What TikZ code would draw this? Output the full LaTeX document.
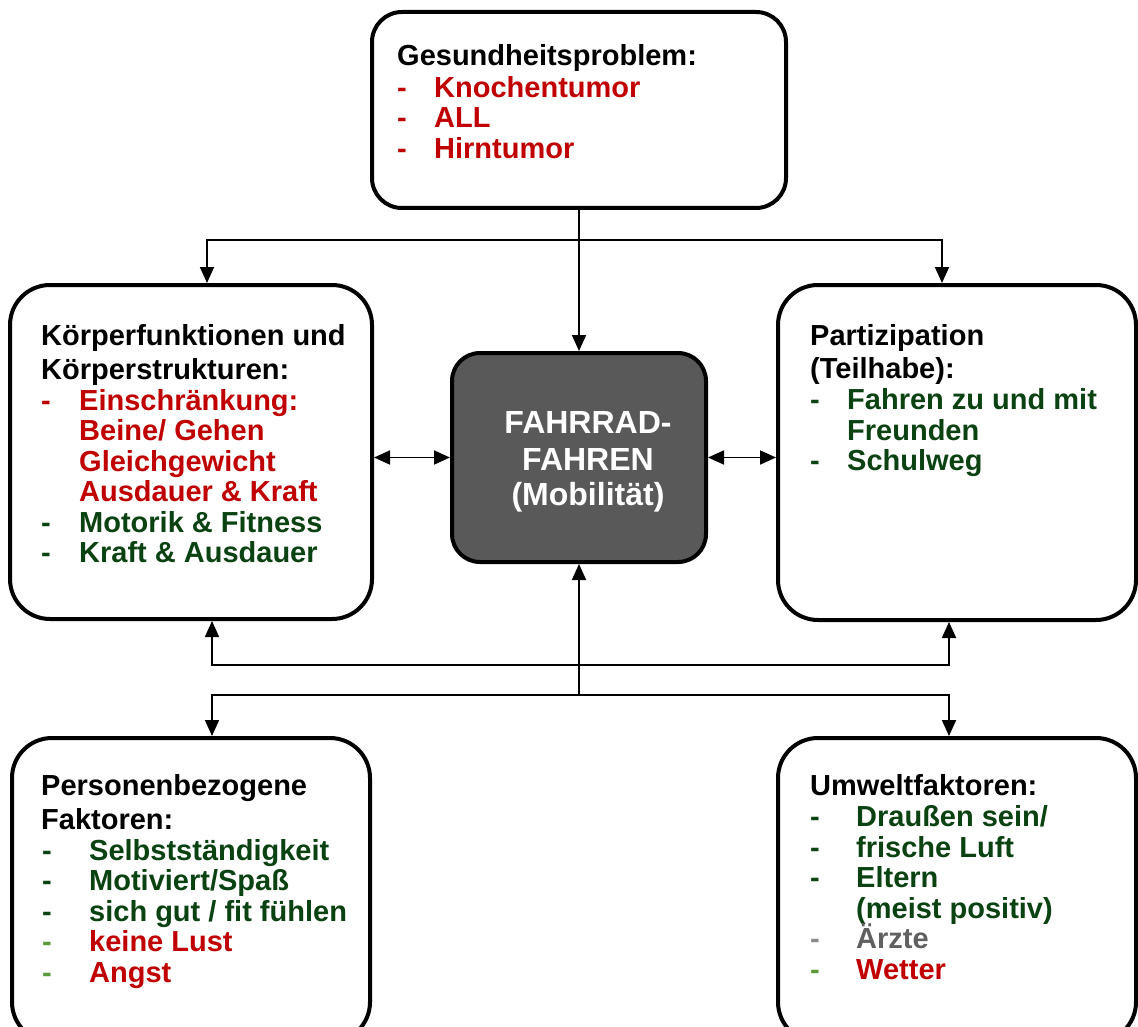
\documentclass[tikz,border=0pt]{standalone}
\usepackage{fontspec}
\setmainfont{Liberation Sans}
\usetikzlibrary{arrows.meta}
\definecolor{ered}{HTML}{C00000}
\definecolor{egreen}{HTML}{0B4212}
\definecolor{elgreen}{HTML}{5B9A3B}
\definecolor{egray}{HTML}{606060}
\definecolor{edgray}{HTML}{8A8A8A}
\definecolor{cgray}{HTML}{595959}
\newcommand\entry[7]{\node[txt] (#1) at (#2,#3) {\makebox[#4][l]{#5}\color{#6}#7};}
\begin{document}
\begin{tikzpicture}[x=1pt,y=-1pt,
 box/.style={draw, line width=4pt, rounded corners=40pt, inner sep=0pt, outer sep=2pt, fill=white},
 txt/.style={anchor=base west, inner sep=0pt, font=\fontsize{29}{30.5}\selectfont\bfseries},
 ctxt/.style={anchor=base, inner sep=0pt, text=white, font=\fontsize{32}{36}\selectfont\bfseries},
 arr/.style={line width=1.8pt, -{Triangle[length=16pt,width=14pt]}},
 dbl/.style={line width=1.8pt, {Triangle[length=16pt,width=14pt]}-{Triangle[length=16pt,width=14pt]}}]
\useasboundingbox (0,0) rectangle (1138,1027);
\clip (0,0) rectangle (1138,1027);
\fill[white] (0,0) rectangle (1138,1027);

% boxes
\node[box, rounded corners=30pt, minimum width=414pt, minimum height=196pt] (gp) at (579,110) {};
\node[box, minimum width=362pt, minimum height=334pt] (kf) at (191,452) {};
\node[box, minimum width=358pt, minimum height=335pt] (part) at (957,452.5) {};
\node[box, rounded corners=28pt, fill=cgray, minimum width=254pt, minimum height=209pt] (ctr) at (579,457.5) {};
\node[box, minimum width=358pt, minimum height=304pt] (pf) at (191,890) {};
\node[box, minimum width=358pt, minimum height=304pt] (uf) at (957,890) {};

% connectors
\coordinate (tj) at (579,240);
\coordinate (mj) at (579,665);
\coordinate (bj) at (579,695);
\draw[arr] (gp.south) -- (ctr.north);
\draw[arr] (tj) -| ([xshift=16pt]kf.north);
\draw[arr] (tj) -| ([xshift=-15pt]part.north);
\draw[dbl] (kf.east |- ctr.west) -- (ctr.west);
\draw[dbl] (ctr.east) -- (part.west |- ctr.east);
\draw[arr] (bj) -- (ctr.south);
\draw[dbl] ([xshift=21pt]kf.south) |- (mj) -| ([xshift=-8pt]part.south);
\draw[arr] (bj) -| ([xshift=21pt]pf.north);
\draw[arr] (bj) -| ([xshift=-8pt]uf.north);

% Gesundheitsproblem
\node[txt] (gph) at (397,66) {Gesundheitsproblem:};
\entry{gp1}{397}{97.5}{37pt}{\color{ered}-}{ered}{Knochentumor}
\entry{gp2}{397}{128}{37pt}{\color{ered}-}{ered}{ALL}
\entry{gp3}{397}{158.5}{37pt}{\color{ered}-}{ered}{Hirntumor}

% Koerperfunktionen
\node[txt] (kfh1) at (41,345) {Körperfunktionen und};
\node[txt] (kfh2) at (41,379) {Körperstrukturen:};
\entry{kf1}{41}{410}{38pt}{\color{ered}-}{ered}{Einschränkung:}
\entry{kf2}{41}{440.5}{38pt}{}{ered}{Beine/ Gehen}
\entry{kf3}{41}{471}{38pt}{}{ered}{Gleichgewicht}
\entry{kf4}{41}{501.5}{38pt}{}{ered}{Ausdauer \& Kraft}
\entry{kf5}{41}{532}{38pt}{\color{egreen}-}{egreen}{Motorik \& Fitness}
\entry{kf6}{41}{562.5}{38pt}{\color{egreen}-}{egreen}{Kraft \& Ausdauer}

% Partizipation
\node[txt] (pah1) at (810,345) {Partizipation};
\node[txt] (pah2) at (810,378) {(Teilhabe):};
\entry{pa1}{810}{409}{37pt}{\color{egreen}-}{egreen}{Fahren zu und mit}
\entry{pa2}{810}{440}{37pt}{}{egreen}{Freunden}
\entry{pa3}{810}{470.5}{37pt}{\color{egreen}-}{egreen}{Schulweg}

% center
\node[ctxt] (c1) at (588,433) {FAHRRAD-};
\node[ctxt] (c2) at (588,470) {FAHREN};
\node[ctxt] (c3) at (588,505) {(Mobilität)};

% Personenbezogene Faktoren
\node[txt] (pfh1) at (41,795) {Personenbezogene};
\node[txt] (pfh2) at (41,829) {Faktoren:};
\entry{pf1}{42}{860}{47pt}{\color{egreen}-}{egreen}{Selbstständigkeit}
\entry{pf2}{42}{890.5}{47pt}{\color{egreen}-}{egreen}{Motiviert/Spaß}
\entry{pf3}{42}{921}{47pt}{\color{egreen}-}{egreen}{sich gut / fit fühlen}
\entry{pf4}{42}{951.5}{47pt}{\color{elgreen}-}{ered}{keine Lust}
\entry{pf5}{42}{982}{47pt}{\color{elgreen}-}{ered}{Angst}

% Umweltfaktoren
\node[txt] (ufh) at (810,795) {Umweltfaktoren:};
\entry{uf1}{810}{826}{46pt}{\color{egreen}-}{egreen}{Draußen sein/}
\entry{uf2}{810}{857}{46pt}{\color{egreen}-}{egreen}{frische Luft}
\entry{uf3}{810}{887.5}{46pt}{\color{egreen}-}{egreen}{Eltern}
\entry{uf4}{810}{918}{46pt}{}{egreen}{(meist positiv)}
\entry{uf5}{810}{948.5}{46pt}{\color{edgray}-}{egray}{Ärzte}
\entry{uf6}{810}{979}{46pt}{\color{elgreen}-}{ered}{Wetter}
\end{tikzpicture}
\end{document}
